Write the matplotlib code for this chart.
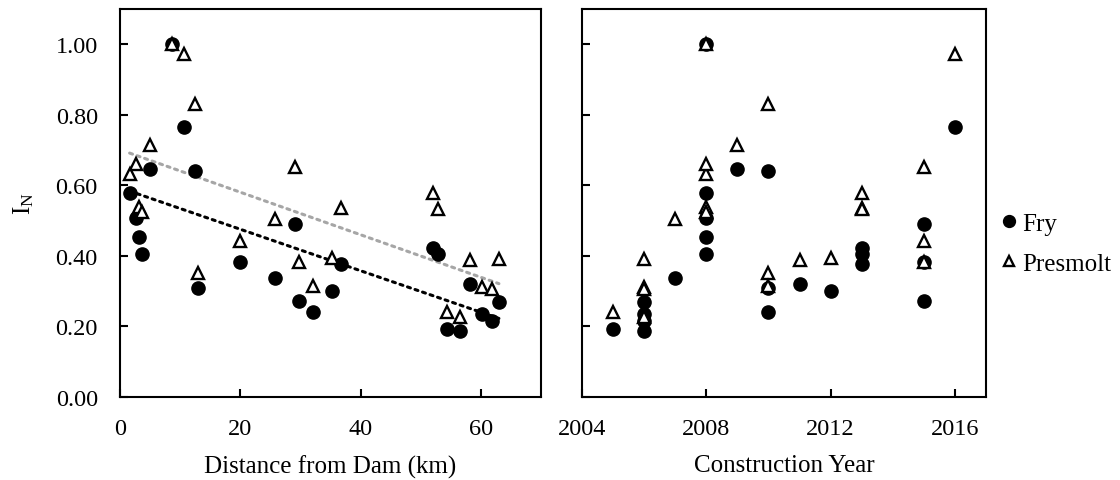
#!/usr/bin/python3
"""
Fry and presmolt index vs. distance from dam and construction year.
"""
import matplotlib
matplotlib.use('Agg')
import matplotlib.pyplot as plt
import numpy as np

# One entry per site
distance = [8.6, 10.7, 5.0, 12.4, 1.6, 2.6, 3.2, 3.7, 13.0, 20.0, 25.7, 29.1,
            29.8, 32.1, 35.2, 36.7, 52.0, 52.8, 58.2, 63.0, 60.2, 61.8, 54.4, 56.5]
year = [2008, 2016, 2009, 2010, 2008, 2008, 2008, 2008, 2010, 2015, 2007, 2015,
        2015, 2010, 2012, 2013, 2013, 2013, 2011, 2006, 2006, 2006, 2005, 2006]
fry = [1.00, 0.766, 0.646, 0.641, 0.577, 0.508, 0.454, 0.404, 0.309, 0.384,
       0.337, 0.490, 0.272, 0.242, 0.300, 0.378, 0.422, 0.406, 0.319, 0.269,
       0.234, 0.215, 0.193, 0.188]
presmolt = [1.00, 0.972, 0.714, 0.832, 0.633, 0.660, 0.539, 0.525, 0.352, 0.442,
            0.504, 0.652, 0.383, 0.316, 0.395, 0.537, 0.577, 0.534, 0.389, 0.392,
            0.313, 0.307, 0.241, 0.228]

y_ticks = [0.0, 0.2, 0.4, 0.6, 0.8, 1.0]
dist_ticks = [0, 20, 40, 60]
year_ticks = [2004, 2008, 2012, 2016]


def format_plotting():
    plt.rcParams['font.family'] = ['Liberation Serif', 'DejaVu Serif']
    plt.rcParams['mathtext.fontset'] = 'custom'
    plt.rcParams['mathtext.rm'] = 'Liberation Serif'
    plt.rcParams['font.size'] = 18
    plt.rcParams['axes.labelsize'] = 18
    plt.rcParams['xtick.labelsize'] = 17.5
    plt.rcParams['ytick.labelsize'] = 17.5
    plt.rcParams['axes.linewidth'] = 1.5
    plt.rcParams['xtick.direction'] = 'in'
    plt.rcParams['ytick.direction'] = 'in'
    plt.rcParams['xtick.major.size'] = 6
    plt.rcParams['ytick.major.size'] = 6
    plt.rcParams['xtick.major.width'] = 1.5
    plt.rcParams['ytick.major.width'] = 1.5
    plt.rcParams['xtick.major.pad'] = 15
    plt.rcParams['ytick.major.pad'] = 16


def draw_points(ax, x):
    ax.plot(x, fry, 'o', color='black', markersize=9.5, label='Fry', zorder=3)
    ax.plot(x, presmolt, '^', markerfacecolor='white', markeredgecolor='black',
            markeredgewidth=1.7, markersize=8.5, label='Presmolt', zorder=4)


def plot_index():
    format_plotting()
    fig = plt.figure(figsize=(11.2, 4.81), dpi=100)
    ax1 = fig.add_axes([120 / 1120, 83 / 481, 421 / 1120, 388 / 481])
    ax2 = fig.add_axes([582 / 1120, 83 / 481, 404 / 1120, 388 / 481])

    # Linear trend lines on the distance panel
    d = np.array(distance)
    xs = np.array([d.min(), d.max()])
    fit_p = np.polyfit(d, presmolt, 1)
    fit_f = np.polyfit(d, fry, 1)
    ax1.plot(xs, np.polyval(fit_p, xs), linestyle=(0, (1, 1.6)), color='#a6a6a6',
             linewidth=2.2, dash_capstyle='round', zorder=2)
    ax1.plot(xs, np.polyval(fit_f, xs), linestyle=(0, (1, 1.6)), color='black',
             linewidth=2.2, dash_capstyle='round', zorder=2)
    draw_points(ax1, distance)
    draw_points(ax2, year)

    ax1.set_xlim(0, 70)
    ax1.set_xticks(dist_ticks)
    ax1.set_xlabel('Distance from Dam (km)', labelpad=11)
    ax1.set_ylabel(r'$\mathregular{I_N}$', labelpad=14)

    ax2.set_xlim(2004, 2017)
    ax2.set_xticks(year_ticks)
    ax2.set_xlabel('Construction Year', labelpad=11)

    for ax in (ax1, ax2):
        ax.set_ylim(0, 1.1)
        ax.set_yticks(y_ticks)
        ax.tick_params(top=False, right=False)
    ax1.set_yticklabels(['{:.2f}'.format(v) for v in y_ticks])
    ax2.set_yticklabels([])

    ax2.legend(loc='center left', bbox_to_anchor=(1.0, 0.395), frameon=False,
               handlelength=0.6, handletextpad=0.25, labelspacing=0.7,
               borderpad=0, borderaxespad=0.6, fontsize=18, markerscale=0.9)

    fig.savefig('out.png', dpi=100)


if __name__ == "__main__":
    plot_index()
